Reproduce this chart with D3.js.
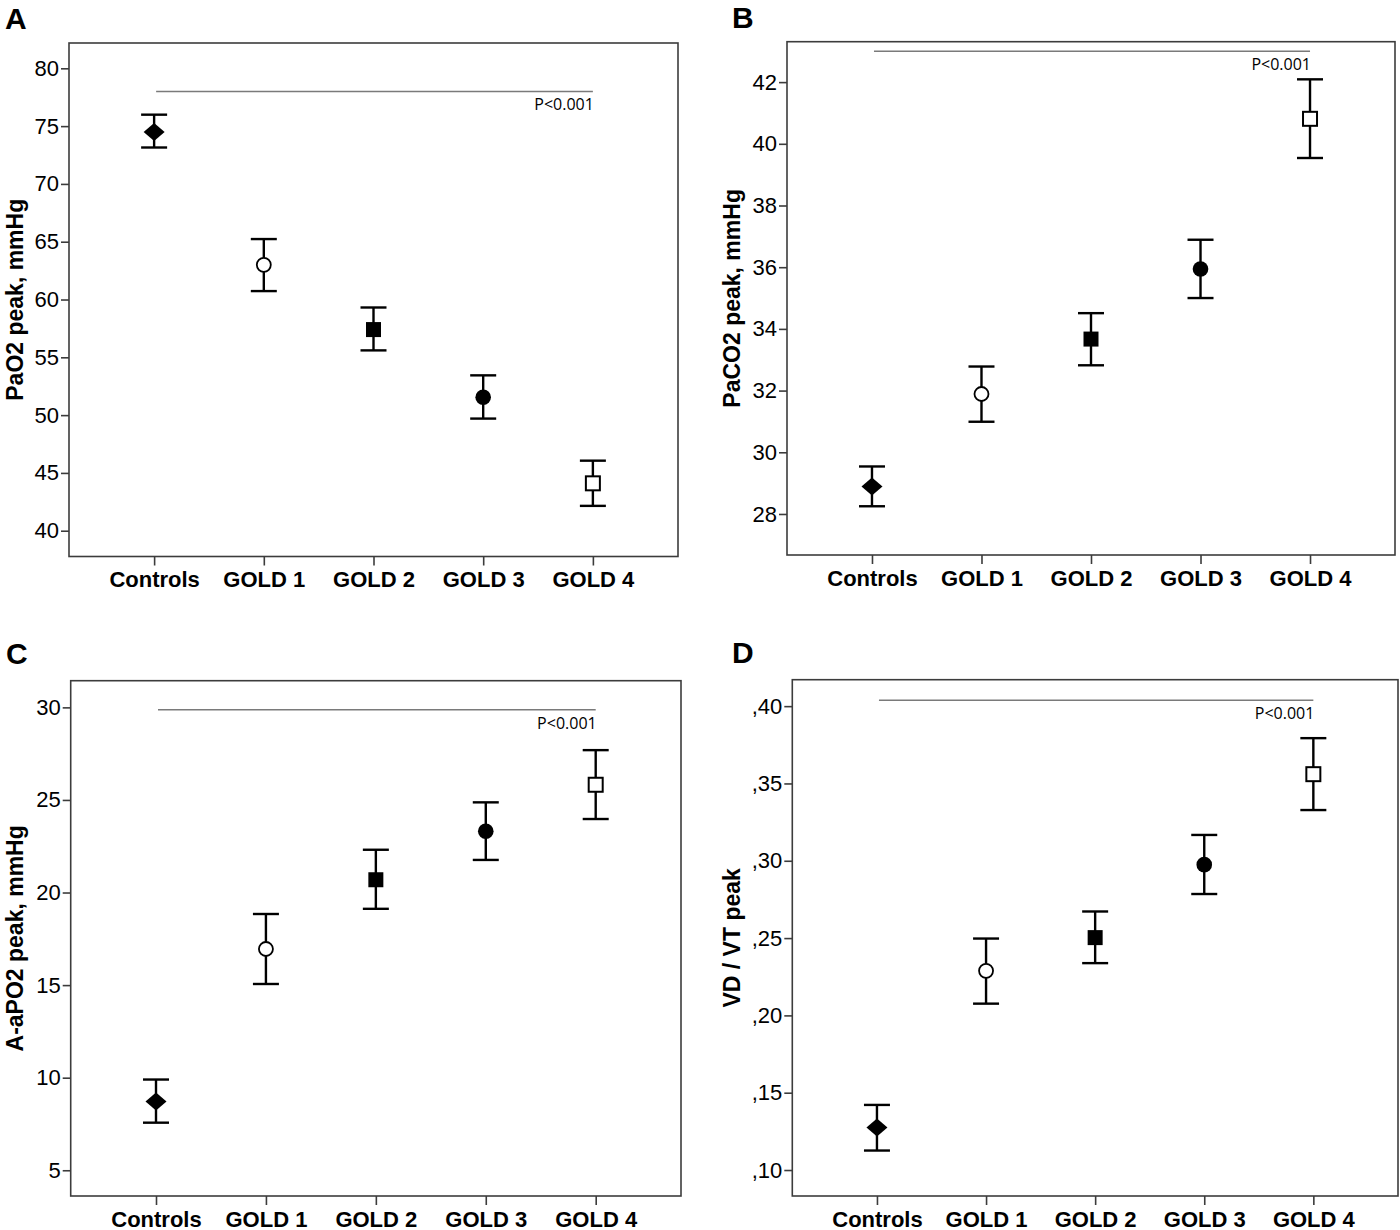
<!DOCTYPE html>
<html>
<head>
<meta charset="utf-8">
<script src="https://cdn.jsdelivr.net/npm/d3@7"></script>
<style>
  body { margin: 0; background: #fff; }
  svg { display: block; }
  text { font-family: "Liberation Sans", Arial, sans-serif; fill: #000; }
</style>
</head>
<body>
<svg id="chart" width="1400" height="1230"></svg>
<script>
// categories shared by all four panels
const categories = ['Controls', 'GOLD 1', 'GOLD 2', 'GOLD 3', 'GOLD 4']

// A: PaO2 peak
const paO2Mean = [74.5, 63.0, 57.4, 51.55, 44.1]
const paO2Low = [73.15, 60.73, 55.6, 49.7, 42.15]
const paO2High = [75.99, 65.23, 59.31, 53.44, 46.06]
const paO2Ticks = [40, 45, 50, 55, 60, 65, 70, 75, 80]
const paO2Range = [37.77, 82.19]

// B: PaCO2 peak
const paCO2Mean = [28.89, 31.89, 33.67, 35.94, 40.81]
const paCO2Low = [28.25, 30.99, 32.82, 35.0, 39.54]
const paCO2High = [29.54, 32.78, 34.51, 36.89, 42.09]
const paCO2Ticks = [28, 30, 32, 34, 36, 38, 40, 42]
const paCO2Range = [26.67, 43.31]

// C: A-aPO2 peak
const aaPO2Mean = [8.72, 16.95, 20.69, 23.31, 25.82]
const aaPO2Low = [7.57, 15.06, 19.12, 21.76, 23.97]
const aaPO2High = [9.9, 18.84, 22.31, 24.87, 27.69]
const aaPO2Ticks = [5, 10, 15, 20, 25, 30]
const aaPO2Range = [3.61, 31.44]

// D: VD/VT peak
const vdvtMean = [0.1275, 0.2288, 0.2503, 0.2975, 0.356]
const vdvtLow = [0.1126, 0.2076, 0.2338, 0.2785, 0.3328]
const vdvtHigh = [0.1421, 0.2497, 0.2672, 0.3167, 0.3793]
const vdvtTicks = [0.10, 0.15, 0.20, 0.25, 0.30, 0.35, 0.40]
const vdvtTickLabels = [',10', ',15', ',20', ',25', ',30', ',35', ',40']
const vdvtRange = [0.0832, 0.4171]

// significance line level per panel
const pLevels = [78, 43, 29.87, 0.4038]
const pText = 'P<0.001'

const panels = [
    { letter: 'A', title: 'PaO2 peak, mmHg', mean: paO2Mean, low: paO2Low, high: paO2High,
      ticks: paO2Ticks, labels: paO2Ticks.map(String), range: paO2Range, p: pLevels[0],
      box: { l: 69, r: 678, t: 43, b: 556.5 }, letterPos: [5, 29], titleX: 15 },
    { letter: 'B', title: 'PaCO2 peak, mmHg', mean: paCO2Mean, low: paCO2Low, high: paCO2High,
      ticks: paCO2Ticks, labels: paCO2Ticks.map(String), range: paCO2Range, p: pLevels[1],
      box: { l: 787, r: 1395, t: 41.7, b: 555 }, letterPos: [732, 28], titleX: 732 },
    { letter: 'C', title: 'A-aPO2 peak, mmHg', mean: aaPO2Mean, low: aaPO2Low, high: aaPO2High,
      ticks: aaPO2Ticks, labels: aaPO2Ticks.map(String), range: aaPO2Range, p: pLevels[2],
      box: { l: 70.7, r: 681, t: 680.7, b: 1196 }, letterPos: [6, 664], titleX: 15 },
    { letter: 'D', title: 'VD / VT peak', mean: vdvtMean, low: vdvtLow, high: vdvtHigh,
      ticks: vdvtTicks, labels: vdvtTickLabels, range: vdvtRange, p: pLevels[3],
      box: { l: 792.3, r: 1398, t: 679.7, b: 1196 }, letterPos: [732, 663], titleX: 732 }
]

const svg = d3.select('#chart')
const frameColor = '#3c3c3c'

// marker per category: diamond, open circle, square, filled circle, open square
function drawMarker(g, i, cx, cy) {
    if (i === 0) {
        g.append('path')
            .attr('d', `M${cx - 10.5},${cy} L${cx},${cy - 9} L${cx + 10.5},${cy} L${cx},${cy + 9} Z`)
            .attr('fill', '#000')
    } else if (i === 1) {
        g.append('circle').attr('cx', cx).attr('cy', cy).attr('r', 7)
            .attr('fill', '#fff').attr('stroke', '#000').attr('stroke-width', 1.8)
    } else if (i === 2) {
        g.append('rect').attr('x', cx - 7.5).attr('y', cy - 7.5).attr('width', 15).attr('height', 15)
            .attr('fill', '#000')
    } else if (i === 3) {
        g.append('circle').attr('cx', cx).attr('cy', cy).attr('r', 7.8).attr('fill', '#000')
    } else {
        g.append('rect').attr('x', cx - 7).attr('y', cy - 7).attr('width', 14).attr('height', 14)
            .attr('fill', '#fff').attr('stroke', '#000').attr('stroke-width', 2)
    }
}

panels.forEach(p => {
    const { l, r, t, b } = p.box
    const g = svg.append('g')

    const x = d3.scalePoint().domain(categories).range([l, r]).padding(0.776)
    const y = d3.scaleLinear().domain(p.range).range([b, t])

    // panel letter
    g.append('text')
        .attr('x', p.letterPos[0]).attr('y', p.letterPos[1])
        .style('font-size', '30px').style('font-weight', 'bold')
        .text(p.letter)

    // frame
    g.append('rect')
        .attr('x', l).attr('y', t).attr('width', r - l).attr('height', b - t)
        .attr('fill', 'none').attr('stroke', frameColor).attr('stroke-width', 1.6)

    // y axis
    const yAxis = g.append('g')
        .attr('transform', `translate(${l},0)`)
        .call(d3.axisLeft(y).tickValues(p.ticks).tickSize(8).tickPadding(2)
            .tickFormat((d, i) => p.labels[i]))
    yAxis.select('.domain').remove()
    yAxis.selectAll('line').attr('stroke', frameColor).attr('stroke-width', 1.6)
    yAxis.selectAll('text').style('font-size', '22px').attr('fill', '#000')
        .style('font-family', '"Liberation Sans", Arial, sans-serif')

    // x axis
    const xAxis = g.append('g')
        .attr('transform', `translate(0,${b})`)
        .call(d3.axisBottom(x).tickSize(9).tickPadding(0))
    xAxis.select('.domain').remove()
    xAxis.selectAll('line').attr('stroke', frameColor).attr('stroke-width', 1.6)
    xAxis.selectAll('text')
        .attr('y', 30.5).attr('dy', null)
        .style('font-size', '22px').style('font-weight', 'bold').attr('fill', '#000')
        .style('font-family', '"Liberation Sans", Arial, sans-serif')

    // y title
    g.append('text')
        .attr('transform', `translate(${p.titleX},${(t + b) / 2}) rotate(-90)`)
        .attr('text-anchor', 'middle').attr('dy', '0.35em')
        .style('font-size', '23px').style('font-weight', 'bold')
        .text(p.title)

    // significance line
    const x0 = x(categories[0]) + 2, x1 = x(categories[categories.length - 1])
    g.append('line')
        .attr('x1', x0).attr('x2', x1)
        .attr('y1', y(p.p)).attr('y2', y(p.p))
        .attr('stroke', '#7a7a7a').attr('stroke-width', 1.4)
    g.append('text')
        .attr('x', x1 + 1).attr('y', y(p.p) + 19)
        .attr('text-anchor', 'end')
        .style('font-family', '"Open Sans", sans-serif').style('font-size', '16px')
        .text(pText)

    // error bars + markers
    categories.forEach((c, i) => {
        const cx = x(c)
        const eg = g.append('g').attr('stroke', '#000').attr('stroke-width', 2.4)
        eg.append('line').attr('x1', cx).attr('x2', cx).attr('y1', y(p.low[i])).attr('y2', y(p.high[i]))
        eg.append('line').attr('x1', cx - 13).attr('x2', cx + 13).attr('y1', y(p.high[i])).attr('y2', y(p.high[i]))
        eg.append('line').attr('x1', cx - 13).attr('x2', cx + 13).attr('y1', y(p.low[i])).attr('y2', y(p.low[i]))
        drawMarker(g, i, cx, y(p.mean[i]))
    })
})
</script>
</body>
</html>
